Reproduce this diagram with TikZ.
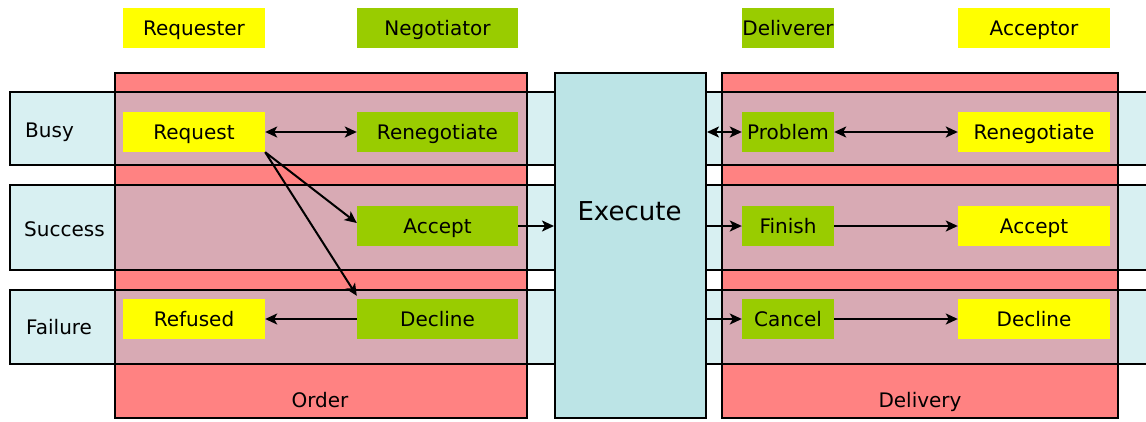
\documentclass[tikz,border=0pt]{standalone}
\usepackage{fontspec}
\setmainfont{DejaVu Sans}
\usetikzlibrary{arrows.meta,calc}
\definecolor{yel}{HTML}{FFFF00}
\definecolor{grn}{HTML}{99CC00}
\definecolor{colred}{HTML}{FF8282}
\definecolor{bandblue}{HTML}{D8F0F2}
\definecolor{overlap}{HTML}{D8AAB4}
\definecolor{execblue}{HTML}{BCE4E6}
\tikzset{
  box/.style={rectangle,inner sep=0pt,minimum height=40pt,text height=15pt,text depth=0pt,font=\fontsize{20}{24}\selectfont},
  ybox/.style={box,fill=yel},
  gbox/.style={box,fill=grn},
  lbl/.style={inner sep=0pt,text height=15pt,text depth=0pt,font=\fontsize{20}{24}\selectfont},
  outline/.style={draw=black,line width=2pt},
  tip/.tip={Stealth[length=12pt,width=11pt,inset=3pt]},
  arr/.style={line width=2pt,-tip},
  darr/.style={line width=2pt,tip-tip},
}
\begin{document}
\begin{tikzpicture}[x=1pt,y=-1pt]
\useasboundingbox (0,0) rectangle (1146,421);
\fill[white] (0,0) rectangle (1146,421);
% bands
\foreach \a/\b in {92/165,185/270,290/364}{
  \fill[bandblue] (10,\a) rectangle (1146,\b);
}
% columns
\fill[colred] (115,73) rectangle (527,418);
\fill[colred] (722,73) rectangle (1118,418);
% overlaps
\foreach \a/\b in {92/165,185/270,290/364}{
  \fill[overlap] (115,\a) rectangle (527,\b);
  \fill[overlap] (722,\a) rectangle (1118,\b);
}
% outlines
\draw[outline] (115,73) rectangle (527,418);
\draw[outline] (722,73) rectangle (1118,418);
\foreach \a/\b in {92/165,185/270,290/364}{
  \draw[outline] (1150,\a) -- (10,\a) -- (10,\b) -- (1150,\b);
}
% execute column
\node[rectangle,fill=execblue,outline,inner sep=0pt,minimum width=151pt,minimum height=345pt] (exec) at (630.5,245.5) {};
\node[inner sep=0pt,font=\fontsize{26}{30}\selectfont] (execlbl) at (629.5,211) {Execute};
% headers
\node[ybox,minimum width=142pt] (hreq) at (194,28) {Requester};
\node[gbox,minimum width=161pt] (hneg) at (437.5,28) {Negotiator};
\node[gbox,minimum width=92pt] (hdel) at (788,28) {Deliverer};
\node[ybox,minimum width=152pt] (hacc) at (1034,28) {Acceptor};
% row labels
\node[lbl,anchor=west] (busy) at (25,130) {Busy};
\node[lbl,anchor=west] (success) at (24,229) {Success};
\node[lbl,anchor=west] (failure) at (26,327) {Failure};
% column labels
\node[lbl] (order) at (320,400) {Order};
\node[lbl] (delivery) at (920,400) {Delivery};
% order nodes
\node[ybox,minimum width=142pt] (request) at (194,132) {Request};
\node[gbox,minimum width=161pt] (reneg1) at (437.5,132) {Renegotiate};
\node[gbox,minimum width=161pt] (accept1) at (437.5,226) {Accept};
\node[ybox,minimum width=142pt] (refused) at (194,319) {Refused};
\node[gbox,minimum width=161pt] (decline1) at (437.5,319) {Decline};
% delivery nodes
\node[gbox,minimum width=92pt] (problem) at (788,132) {Problem};
\node[ybox,minimum width=152pt] (reneg2) at (1034,132) {Renegotiate};
\node[gbox,minimum width=92pt] (finish) at (788,226) {Finish};
\node[ybox,minimum width=152pt] (accept2) at (1034,226) {Accept};
\node[gbox,minimum width=92pt] (cancel) at (788,319) {Cancel};
\node[ybox,minimum width=152pt] (decline2) at (1034,319) {Decline};
% connectors
\draw[darr] (request.east) -- (reneg1.west);
\draw[arr] (request.south east) -- ($(accept1.west)+(0,-3)$);
\draw[arr] (request.south east) -- ($(decline1.north west)+(0,-3)$);
\draw[arr] (decline1.west) -- (refused.east);
\draw[arr] (accept1.east) -- (accept1.east -| exec.west);
\draw[darr] (problem.west -| exec.east) -- (problem.west);
\draw[darr] (problem.east) -- (reneg2.west);
\draw[arr] (finish.west -| exec.east) -- (finish.west);
\draw[arr] (finish.east) -- (accept2.west);
\draw[arr] (cancel.west -| exec.east) -- (cancel.west);
\draw[arr] (cancel.east) -- (decline2.west);
\end{tikzpicture}
\end{document}
